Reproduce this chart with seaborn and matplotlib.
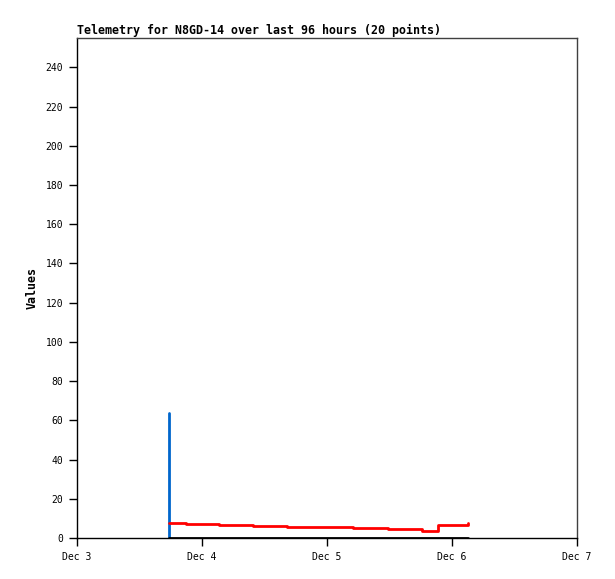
import matplotlib
matplotlib.use("Agg")
import matplotlib.pyplot as plt
import seaborn as sns

# ---- data (x in hours since Dec 3 00:00) ----
title = "Telemetry for N8GD-14 over last 96 hours (20 points)"
y_label = "Values"
x_tick_labels = ["Dec 3", "Dec 4", "Dec 5", "Dec 6", "Dec 7"]
y_ticks = [0, 20, 40, 60, 80, 100, 120, 140, 160, 180, 200, 220, 240]

red_hours = [17.66, 20.87, 24.1, 27.32, 30.59, 33.85, 37.06, 40.26, 43.53, 46.79,
             49.92, 53.05, 56.35, 59.65, 62.92, 66.18, 69.25, 72.19, 75.13]
red_values = [7.8, 7.3, 7.3, 6.8, 6.8, 6.3, 6.3, 5.8, 5.8, 5.4,
              5.4, 4.9, 4.9, 4.4, 4.4, 3.7, 6.8, 6.8, 7.8]

blue_hours = [17.66, 17.66]
blue_values = [0, 64]

black_hours = [17.66, 75.13]
black_values = [0, 0]

sns.set_style("ticks")
plt.rcParams["font.family"] = ["DejaVu Sans Mono", "DejaVu Sans"]
plt.rcParams["text.color"] = "black"
plt.rcParams["axes.labelcolor"] = "black"
plt.rcParams["xtick.color"] = "black"
plt.rcParams["ytick.color"] = "black"

fig = plt.figure(figsize=(6.15, 5.79), dpi=100)
ax = fig.add_axes([77 / 615, 41 / 579, 500 / 615, 500 / 579])

sns.lineplot(x=[h / 24 for h in blue_hours], y=blue_values, estimator=None,
             sort=False, color="#0066cc", linewidth=2, ax=ax)
sns.lineplot(x=[h / 24 for h in red_hours], y=red_values, estimator=None,
             sort=False, color="#ff0000", linewidth=2, drawstyle="steps-post", ax=ax)
sns.lineplot(x=[h / 24 for h in black_hours], y=black_values, estimator=None,
             sort=False, color="black", linewidth=2, ax=ax)

ax.set_xlim(0, 4)
ax.set_ylim(0, 255)
ax.set_xticks(range(len(x_tick_labels)))
ax.set_xticklabels(x_tick_labels)
ax.set_yticks(y_ticks)
ax.tick_params(axis="both", labelsize=7, length=6, width=1, color="black",
               labelcolor="black", pad=4)

for side in ["left", "bottom"]:
    ax.spines[side].set_color("black")
    ax.spines[side].set_linewidth(1)
for side in ["top", "right"]:
    ax.spines[side].set_visible(True)
    ax.spines[side].set_color("#404040")
    ax.spines[side].set_linewidth(1)

ax.set_title(title, loc="left", fontsize=8.4, fontweight="bold", pad=3, color="black")
ax.set_ylabel(y_label, fontsize=8.4, fontweight="bold", labelpad=5, color="black")
ax.set_xlabel("")

fig.savefig("out.png", dpi=100)
